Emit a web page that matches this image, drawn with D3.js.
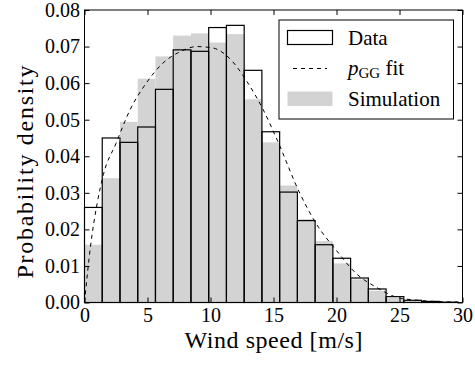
<!DOCTYPE html>
<meta charset="utf-8">
<body style="margin:0;background:#fff">
<script src="https://d3js.org/d3.v7.min.js"></script>
<script>

// histogram bins (m/s)
var binWidth = 1.408;
var dataDensity = [0.026, 0.045, 0.0438, 0.048, 0.0583, 0.0691, 0.0687, 0.0752, 0.0758, 0.0635,
                   0.0467, 0.0302, 0.0224, 0.0158, 0.0121, 0.0067, 0.0037, 0.0016, 0.0006, 0.0003, 0.0001];
var simDensity  = [0.0158, 0.034, 0.0494, 0.0612, 0.0673, 0.073, 0.0736, 0.0711, 0.0734, 0.0556,
                   0.0438, 0.032, 0.0228, 0.0168, 0.0107, 0.0063, 0.0032, 0.0012, 0.0005, 0.0002, 0.0001];

// p_GG fit curve
var fitSpeed = [0, 0.5, 1.0, 1.5, 2.5, 3.6, 4.9, 6.2, 7.6, 8.9, 10.2, 11.5, 12.9, 14.2, 15.3, 17.1, 18.4, 20.0, 21.6, 23.2, 24.8, 26.5, 28.5, 30];
var fitDensity = [0, 0.016, 0.027, 0.035, 0.0435, 0.0526, 0.060, 0.0654, 0.0686, 0.070, 0.0696, 0.0668, 0.0604, 0.0526, 0.0444, 0.0298, 0.0215, 0.0142, 0.0078, 0.0041, 0.0014, 0.0006, 0.0002, 0.0001];

var xTicks = [0, 5, 10, 15, 20, 25, 30];
var yTicks = [0, 0.01, 0.02, 0.03, 0.04, 0.05, 0.06, 0.07, 0.08];

var SERIF = "Liberation Serif";

var margin = {top: 10, right: 12.5, bottom: 62.5, left: 84.5},
    width = 475 - margin.left - margin.right,
    height = 365 - margin.top - margin.bottom;

var root = d3.select("body").append("svg")
    .attr("width", 475)
    .attr("height", 365)
    .attr("font-family", SERIF);
var svg = root.append("g")
    .attr("transform", "translate(" + margin.left + "," + margin.top + ")");

var x = d3.scaleLinear().domain([0, 30]).range([0, width]);
var y = d3.scaleLinear().domain([0, 0.08]).range([height, 0]);

var bins = dataDensity.map(function(d, i) {
  return {x0: i * binWidth, x1: (i + 1) * binWidth, data: d, sim: simDensity[i]};
});

// simulation histogram (filled grey)
svg.selectAll("rect.sim")
    .data(bins)
  .enter().append("rect")
    .attr("class", "sim")
    .attr("x", function(d) { return x(d.x0); })
    .attr("width", function(d) { return x(d.x1) - x(d.x0); })
    .attr("y", function(d) { return y(d.sim); })
    .attr("height", function(d) { return height - y(d.sim); })
    .attr("fill", "#d3d3d3");

// data histogram (outline only)
svg.selectAll("rect.data")
    .data(bins)
  .enter().append("rect")
    .attr("class", "data")
    .attr("x", function(d) { return x(d.x0); })
    .attr("width", function(d) { return x(d.x1) - x(d.x0); })
    .attr("y", function(d) { return y(d.data); })
    .attr("height", function(d) { return height - y(d.data); })
    .attr("fill", "none")
    .attr("stroke", "#000")
    .attr("stroke-width", 1.2);

// fit line
var fit = fitSpeed.map(function(s, i) { return [s, fitDensity[i]]; });
svg.append("path")
    .datum(fit)
    .attr("fill", "none")
    .attr("stroke", "#000")
    .attr("stroke-width", 1)
    .attr("stroke-dasharray", "4,4")
    .attr("d", d3.line()
        .curve(d3.curveMonotoneX)
        .x(function(d) { return x(d[0]); })
        .y(function(d) { return y(d[1]); }));

// axes, ticks pointing inwards on all four sides
var fmt = d3.format(".2f");
svg.append("g")
    .attr("transform", "translate(0," + height + ")")
    .call(d3.axisBottom(x).tickValues(xTicks).tickSize(-5).tickPadding(5.5).tickFormat(d3.format("d")));
svg.append("g")
    .call(d3.axisLeft(y).tickValues(yTicks).tickSize(-5).tickPadding(4.5).tickFormat(fmt));
svg.append("g")
    .call(d3.axisTop(x).tickValues(xTicks).tickSize(-5).tickFormat(""));
svg.append("g")
    .attr("transform", "translate(" + width + ",0)")
    .call(d3.axisRight(y).tickValues(yTicks).tickSize(-5).tickFormat(""));

svg.selectAll(".domain").remove();
svg.selectAll("g").attr("font-family", SERIF).attr("font-size", 20);
svg.selectAll(".tick line").attr("stroke", "#000");
svg.selectAll(".tick text")
    .attr("fill", "#000")
    .attr("font-family", SERIF)
    .attr("font-size", 20)
    .each(function() {
      var t = d3.select(this), s = t.text();
      t.text(null).append("tspan").attr("font-family", SERIF).text(s);
    });

// frame
svg.append("rect")
    .attr("width", width)
    .attr("height", height)
    .attr("fill", "none")
    .attr("stroke", "#000")
    .attr("stroke-width", 1);

function label(sel, s) {
  sel.append("tspan").attr("font-family", SERIF).text(s);
  return sel;
}

// axis labels
label(svg.append("text")
    .attr("x", width / 2)
    .attr("y", 348 - margin.top)
    .attr("text-anchor", "middle")
    .attr("textLength", 178)
    .attr("font-family", SERIF)
    .attr("font-size", 24), "Wind speed [m/s]");

label(svg.append("text")
    .attr("transform", "translate(" + (33 - margin.left) + "," + (172 - margin.top) + ") rotate(-90)")
    .attr("text-anchor", "middle")
    .attr("textLength", 213)
    .attr("font-family", SERIF)
    .attr("font-size", 24), "Probability density");

// legend
var lg = svg.append("g").attr("transform", "translate(" + (279 - margin.left) + "," + (20 - margin.top) + ")");
lg.append("rect")
    .attr("width", 174.5)
    .attr("height", 99)
    .attr("fill", "#fff")
    .attr("stroke", "#000")
    .attr("stroke-width", 1);
lg.append("rect")
    .attr("x", 8.5).attr("y", 10.5)
    .attr("width", 45).attr("height", 14)
    .attr("fill", "#fff").attr("stroke", "#000").attr("stroke-width", 1.2);
label(lg.append("text").attr("x", 69).attr("y", 25).attr("font-family", SERIF).attr("font-size", 21), "Data");
lg.append("line")
    .attr("x1", 14).attr("x2", 48)
    .attr("y1", 48.5).attr("y2", 48.5)
    .attr("stroke", "#000").attr("stroke-dasharray", "4,4");
var pt = lg.append("text").attr("x", 69).attr("y", 55).attr("font-family", SERIF).attr("font-size", 21);
pt.append("tspan").attr("font-family", SERIF).attr("font-style", "italic").text("p");
pt.append("tspan").attr("font-family", SERIF).attr("dy", 3).attr("font-size", 15).text("GG");
pt.append("tspan").attr("font-family", SERIF).attr("dy", -3).text(" fit");
lg.append("rect")
    .attr("x", 8.5).attr("y", 71.5)
    .attr("width", 45).attr("height", 14.5)
    .attr("fill", "#d3d3d3");
label(lg.append("text").attr("x", 69).attr("y", 86).attr("font-family", SERIF).attr("font-size", 21), "Simulation");

</script>
</body>
